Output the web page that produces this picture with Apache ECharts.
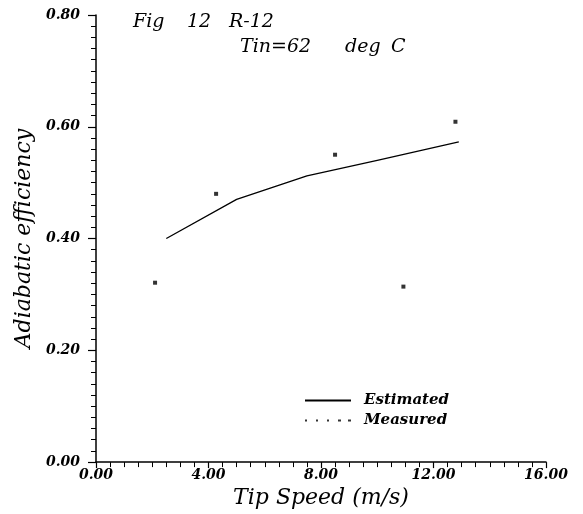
<!DOCTYPE html>
<html>
<head>
<meta charset="utf-8">
<script src="https://cdn.jsdelivr.net/npm/echarts@6/dist/echarts.min.js"></script>
<style>
html,body{margin:0;padding:0;background:#fff;}
#chart{width:583px;height:514px;}
</style>
</head>
<body>
<div id="chart"></div>
<script>
// ---- data ----
const estimatedX = [2.5, 5.0, 7.5, 10.0, 12.9];
const estimatedY = [0.400, 0.470, 0.512, 0.540, 0.573];
const measuredX = [2.10, 4.27, 8.50, 10.93, 12.78];
const measuredY = [0.321, 0.480, 0.550, 0.314, 0.609];
const xTicks = [0, 4, 8, 12, 16];
const yTicks = [0, 0.2, 0.4, 0.6, 0.8];
const titleLine1 = ['Fig', '12', 'R-12'];
const titleLine2 = ['Tin=62', 'deg', 'C'];
const xName = 'Tip Speed (m/s)';
const yName = 'Adiabatic efficiency';
const legendNames = ['Estimated', 'Measured'];

const serif = '"DejaVu Serif", "Liberation Serif", serif';
const chart = echarts.init(document.getElementById('chart'), null, {renderer: 'canvas'});

const line1Pos = [133, 187, 229];
const line2Pos = [240, 345, 391];
const graphics = [];
titleLine1.forEach((t, i) => graphics.push({type: 'text', left: line1Pos[i], top: 13,
  style: {text: t, font: 'italic 19px ' + serif, fill: '#000'}}));
titleLine2.forEach((t, i) => graphics.push({type: 'text', left: line2Pos[i], top: 38,
  style: {text: t, font: 'italic 19px ' + serif, fill: '#000'}}));

const dotIcon = 'path://M0,0h2v2h-2zM11,0h2v2h-2zM22,0h2v2h-2zM33,0h3v2h-3zM43,0h3v2h-3z';

chart.setOption({
  backgroundColor: '#fff',
  animation: false,
  grid: {left: 96, right: 37, top: 15, bottom: 51},
  graphic: graphics,
  legend: {
    orient: 'vertical', left: 300, top: 388, itemWidth: 46, itemHeight: 2, itemGap: 5,
    data: [
      {name: legendNames[0], icon: 'rect'},
      {name: legendNames[1], icon: dotIcon}
    ],
    textStyle: {fontFamily: serif, fontStyle: 'italic', fontWeight: 'bold', fontSize: 15, color: '#000', padding: [0,0,0,8]}
  },
  xAxis: {
    type: 'value', min: xTicks[0], max: xTicks[xTicks.length - 1], interval: 4,
    name: xName, nameLocation: 'middle', nameGap: 23,
    nameTextStyle: {fontFamily: serif, fontStyle: 'italic', fontSize: 22, color: '#000'},
    axisLine: {lineStyle: {color: '#000', width: 1.5}},
    axisTick: {show: true, inside: false, length: 6, lineStyle: {color: '#000', width: 1.2}},
    minorTick: {show: true, splitNumber: 8, length: 5, lineStyle: {color: '#000', width: 1}},
    splitLine: {show: false},
    axisLabel: {margin: 6, color: '#000', fontFamily: serif, fontStyle: 'italic', fontWeight: 'bold', fontSize: 14,
      formatter: v => v.toFixed(2)}
  },
  yAxis: {
    type: 'value', min: yTicks[0], max: yTicks[yTicks.length - 1], interval: 0.2,
    name: yName, nameLocation: 'middle', nameGap: 61, nameRotate: 90,
    nameTextStyle: {fontFamily: serif, fontStyle: 'italic', fontSize: 22, color: '#000'},
    axisLine: {lineStyle: {color: '#000', width: 1.5}},
    axisTick: {show: true, inside: false, length: 8, lineStyle: {color: '#000', width: 1.2}},
    minorTick: {show: true, splitNumber: 10, length: 5, lineStyle: {color: '#000', width: 1}},
    splitLine: {show: false},
    axisLabel: {margin: 16, color: '#000', fontFamily: serif, fontStyle: 'italic', fontWeight: 'bold', fontSize: 14,
      formatter: v => v.toFixed(2)}
  },
  series: [
    {
      name: legendNames[0], type: 'line', showSymbol: false, symbol: 'none',
      data: estimatedX.map((x, i) => [x, estimatedY[i]]),
      lineStyle: {color: '#000', width: 1.3}, itemStyle: {color: '#000'}
    },
    {
      name: legendNames[1], type: 'scatter', symbol: 'rect', symbolSize: 4,
      data: measuredX.map((x, i) => [x, measuredY[i]]),
      itemStyle: {color: '#000'}
    }
  ]
});
</script>
</body>
</html>
